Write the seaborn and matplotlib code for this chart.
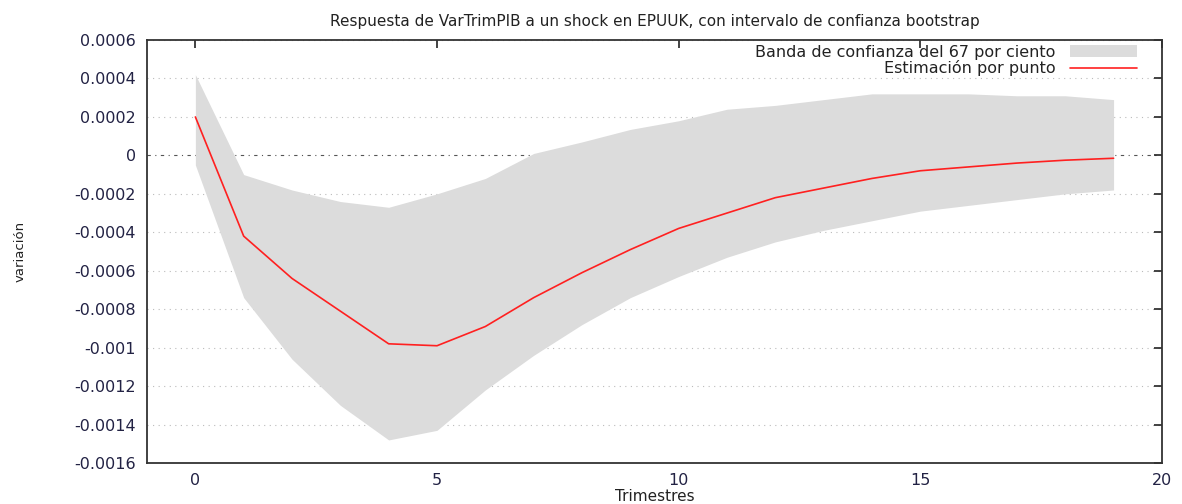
import numpy as np
import pandas as pd
import matplotlib
matplotlib.use('Agg')
import matplotlib.pyplot as plt
import seaborn as sns

# Impulse response values
periodos = list(range(20))
estimacion = [0.00020, -0.00042, -0.00064, -0.00081, -0.00098, -0.00099, -0.00089,
              -0.00074, -0.00061, -0.00049, -0.00038, -0.00030, -0.00022, -0.00017,
              -0.00012, -0.00008, -0.00006, -0.00004, -0.000025, -0.000015]
banda_sup = [0.00042, -0.00010, -0.00018, -0.00024, -0.00027, -0.00020, -0.00012,
             0.00001, 0.00007, 0.000135, 0.00018, 0.00024, 0.00026, 0.00029,
             0.00032, 0.00032, 0.00032, 0.00031, 0.00031, 0.00029]
banda_inf = [-0.00005, -0.00074, -0.00106, -0.00130, -0.00148, -0.00143, -0.00122,
             -0.00104, -0.00088, -0.00074, -0.00063, -0.00053, -0.00045, -0.00039,
             -0.00034, -0.00029, -0.00026, -0.00023, -0.00020, -0.00018]
y_ticks = [0.0006, 0.0004, 0.0002, 0, -0.0002, -0.0004, -0.0006, -0.0008,
           -0.001, -0.0012, -0.0014, -0.0016]
x_ticks = [0, 5, 10, 15, 20]

df = pd.DataFrame({'Trimestres': periodos, 'Estimacion': estimacion,
                   'Sup': banda_sup, 'Inf': banda_inf})

sns.set_style('white')
plt.rcParams['font.family'] = ['DejaVu Sans']

fig = plt.figure(figsize=(11.82, 5.04), dpi=100)
ax = fig.add_axes([0.1244, 0.0813, 0.8586, 0.8393])

# Confidence band and point estimate
ax.fill_between(df['Trimestres'], df['Inf'], df['Sup'], color='#dcdcdc', lw=0,
                label='Banda de confianza del 67 por ciento')
sns.lineplot(data=df, x='Trimestres', y='Estimacion', color='#ff2020', lw=1.2,
             ax=ax, label='Estimación por punto')

# Grid lines and zero line
for v in y_ticks:
    if v == 0:
        ax.axhline(0, color='#555555', lw=0.8, ls=(0, (3, 4, 1, 4)), zorder=0.5)
    else:
        ax.axhline(v, color='#bbbbbb', lw=0.8, ls=(0, (1, 4)), zorder=0.5)

ax.set_xlim(-1, 20)
ax.set_ylim(-0.0016, 0.0006)
ax.set_xticks(x_ticks)
ax.set_yticks(y_ticks)
ax.set_yticklabels([('%g' % v) if v != 0 else '0' for v in y_ticks])
ax.tick_params(axis='both', direction='in', length=6, width=1.2,
               top=True, right=True, labelsize=11.5, colors='#222222')
ax.tick_params(axis='x', pad=7)
ax.tick_params(axis='y', pad=8)
ax.tick_params(axis='both', labelcolor='#222244')
for s in ax.spines.values():
    s.set_color('#333333')
    s.set_linewidth(1.3)

ax.set_title('Respuesta de VarTrimPIB a un shock en EPUUK, con intervalo de confianza bootstrap',
             fontsize=11, color='#222222', pad=10)
ax.set_xlabel('Trimestres', fontsize=11, color='#222222', labelpad=1)
ax.set_ylabel('variación', fontsize=9.5, color='#222222', labelpad=34)

leg = ax.legend(loc='upper right', bbox_to_anchor=(0.977, 0.993), frameon=False,
                markerfirst=False, fontsize=11.5, handlelength=4.2,
                handletextpad=0.9, borderaxespad=0, borderpad=0.1,
                labelspacing=0.05)
for t in leg.get_texts():
    t.set_ha('right')
    t.set_color('#222222')

fig.savefig('out.png', dpi=100)
